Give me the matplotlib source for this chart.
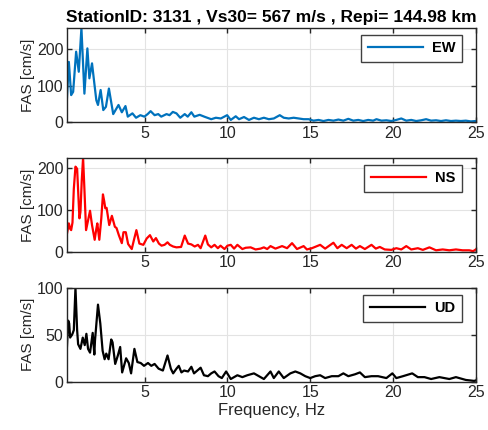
import numpy as np
import matplotlib
matplotlib.use("Agg")
import matplotlib.pyplot as plt

plt.rcParams['font.family'] = ['Liberation Sans', 'DejaVu Sans']

title = "StationID: 3131 , Vs30= 567 m/s , Repi= 144.98 km"
labels = ["EW", "NS", "UD"]
colors = ["#0072BD", "#FF0000", "#000000"]
xticks = [5, 10, 15, 20, 25]
yticks = [[0, 100, 200], [0, 100, 200], [0, 50, 100]]

# EW component (frequency Hz, FAS cm/s)
f_ew = [0.3, 0.42, 0.56, 0.68, 0.86, 1.02, 1.18, 1.36, 1.54, 1.66, 1.82, 1.96, 2.08, 2.18,
        2.34, 2.5, 2.66, 2.84, 3.1, 3.42, 3.62, 3.84, 3.98, 4.26, 4.48, 4.74, 4.98, 5.18,
        5.36, 5.6, 5.82, 6.0, 6.32, 6.5, 6.7, 6.92, 7.15, 7.42, 7.6, 7.82, 8.0, 8.32, 8.6,
        9.02, 9.3, 9.6, 9.98, 10.2, 10.5, 10.7, 11.0, 11.3, 11.6, 11.9, 12.2, 12.5, 12.8,
        13.16, 13.4, 13.7, 14.0, 14.3, 14.6, 14.9, 15.2, 15.5, 15.8, 16.1, 16.4, 16.7,
        17.0, 17.3, 17.6, 17.9, 18.2, 18.5, 18.8, 19.0, 19.3, 19.6, 19.9, 20.2, 20.5, 20.8,
        21.1, 21.4, 21.7, 22.0, 22.3, 22.6, 22.9, 23.2, 23.5, 23.8, 24.1, 24.4, 24.7, 25.0]
v_ew = [60, 165, 74, 83, 193, 138, 258, 78, 202, 120, 161, 106, 60, 47,
        88, 33, 42, 92, 22, 47, 27, 44, 15, 24, 12, 19, 15, 22,
        30, 19, 22, 15, 22, 19, 28, 24, 12, 22, 15, 27, 15, 20, 15,
        8, 12, 10, 19, 6, 16, 8, 14, 6, 12, 8, 12, 8, 10,
        19, 12, 10, 12, 10, 8, 8, 4, 6, 3, 6, 4, 7,
        4, 9, 4, 6, 3, 6, 4, 8, 4, 5, 3, 6, 10, 4,
        6, 3, 5, 8, 4, 5, 3, 5, 3, 4, 3, 4, 2, 3]

# NS component
f_ns = [0.3, 0.42, 0.5, 0.56, 0.64, 0.72, 0.82, 0.92, 1.0, 1.06, 1.12, 1.2, 1.28, 1.36,
        1.46, 1.58, 1.7, 1.82, 1.98, 2.08, 2.14, 2.26, 2.38, 2.48, 2.56, 2.62, 2.7, 2.86,
        3.02, 3.2, 3.3, 3.44, 3.62, 3.72, 3.86, 4.0, 4.22, 4.36, 4.5, 4.68, 4.92, 5.12,
        5.32, 5.52, 5.68, 5.86, 6.02, 6.2, 6.38, 6.52, 6.72, 6.92, 7.2, 7.42, 7.62, 7.82,
        8.02, 8.22, 8.38, 8.66, 8.82, 9.02, 9.22, 9.42, 9.58, 9.82, 10.0, 10.2, 10.4, 10.6,
        10.9, 11.1, 11.4, 11.7, 12.0, 12.2, 12.4, 12.6, 12.9, 13.3, 13.6, 13.9, 14.2, 14.6,
        14.8, 15.1, 15.6, 15.9, 16.4, 16.64, 16.9, 17.2, 17.5, 17.76, 18.0, 18.3, 18.7,
        18.96, 19.2, 19.5, 19.9, 20.2, 20.5, 20.8, 21.1, 21.5, 21.8, 22.2, 22.6, 23.0,
        23.4, 23.8, 24.2, 24.6, 24.84, 25.0]
v_ns = [42, 68, 55, 52, 70, 150, 203, 198, 130, 80, 95, 170, 224, 150,
        52, 75, 98, 64, 29, 55, 68, 29, 80, 137, 120, 104, 105, 64,
        86, 60, 57, 40, 21, 47, 47, 19, 7, 30, 52, 20, 17, 32,
        40, 25, 33, 20, 15, 17, 23, 17, 13, 11, 12, 39, 20, 18,
        13, 17, 9, 39, 18, 11, 17, 9, 15, 7, 15, 17, 8, 17,
        7, 10, 11, 6, 8, 11, 7, 14, 8, 14, 9, 21, 7, 14,
        6, 9, 17, 8, 22, 9, 17, 9, 17, 8, 14, 7, 17,
        8, 12, 6, 5, 9, 6, 14, 6, 9, 5, 11, 4, 6,
        4, 6, 4, 4, 2, 6]

# UD component
f_ud = [0.3, 0.38, 0.44, 0.5, 0.64, 0.72, 0.82, 0.92, 0.98, 1.12, 1.26, 1.38, 1.48, 1.58,
        1.7, 1.86, 1.96, 2.0, 2.18, 2.32, 2.46, 2.58, 2.68, 2.82, 2.98, 3.06, 3.22, 3.38,
        3.52, 3.64, 3.88, 4.04, 4.18, 4.38, 4.56, 4.76, 4.96, 5.2, 5.4, 5.6, 5.84, 6.1,
        6.38, 6.58, 6.72, 6.92, 7.06, 7.22, 7.38, 7.62, 7.82, 7.98, 8.18, 8.38, 8.58, 8.82,
        9.02, 9.22, 9.46, 9.66, 9.92, 10.2, 10.6, 10.9, 11.2, 11.6, 11.9, 12.2, 12.6, 12.8,
        13.1, 13.4, 13.8, 14.1, 14.4, 14.7, 15.0, 15.3, 15.6, 15.9, 16.3, 16.7, 17.0, 17.3,
        17.7, 18.0, 18.3, 18.7, 19.1, 19.6, 19.96, 20.2, 20.6, 21.16, 21.5, 21.9, 22.3,
        22.8, 23.4, 23.8, 24.4, 24.9, 25.0]
v_ud = [35, 65, 62, 47, 51, 55, 100, 55, 40, 35, 47, 39, 51, 35,
        31, 52, 29, 44, 82, 62, 33, 24, 30, 24, 45, 42, 19, 28,
        37, 10, 25, 20, 9, 35, 21, 20, 17, 20, 17, 19, 14, 12,
        28, 14, 9, 14, 17, 10, 12, 11, 16, 9, 12, 15, 7, 6,
        9, 11, 6, 4, 11, 3, 7, 5, 7, 9, 6, 3, 11, 4,
        11, 4, 9, 11, 9, 6, 4, 6, 7, 4, 6, 6, 9, 6,
        8, 10, 5, 6, 6, 4, 9, 4, 6, 9, 5, 5, 3,
        5, 3, 5, 2, 1, 1.5]

freqs = [f_ew, f_ns, f_ud]
vals = [v_ew, v_ns, v_ud]

fig = plt.figure(figsize=(4.88, 4.30), dpi=100)
bottoms = [0.716, 0.414, 0.112]
axc = "#262626"

for i in range(3):
    ax = fig.add_axes([0.137, bottoms[i], 0.838, 0.219])
    ax.plot(freqs[i], vals[i], color=colors[i], lw=1.6, label=labels[i])
    ax.set_xlim(freqs[i][0], 25)
    ax.set_ylim(0, max(vals[i]))
    ax.set_xticks(xticks)
    ax.set_yticks(yticks[i])
    ax.grid(True, color="#e3e3e3", lw=0.8)
    ax.set_axisbelow(True)
    ax.tick_params(direction="in", top=True, right=True, length=3.5, width=1,
                   labelsize=11.5, colors=axc, pad=2.5)
    for s in ax.spines.values():
        s.set_color(axc)
        s.set_linewidth(1)
    ax.set_ylabel("FAS [cm/s]", fontsize=11, color=axc, labelpad=1)
    leg = ax.legend(loc="upper right", bbox_to_anchor=(0.966, 0.926), borderaxespad=0,
                    fancybox=False, framealpha=1, edgecolor="#404040",
                    handlelength=3.8, handletextpad=0.6, borderpad=0.45,
                    prop={"weight": "bold", "size": 10.5})
    leg.get_frame().set_linewidth(1)
    if i == 0:
        ax.set_title(title, fontweight="bold", fontsize=12.5, pad=4)
    if i == 2:
        ax.set_xlabel("Frequency, Hz", fontsize=12, color=axc, labelpad=2)

fig.savefig("out.png", dpi=100)
